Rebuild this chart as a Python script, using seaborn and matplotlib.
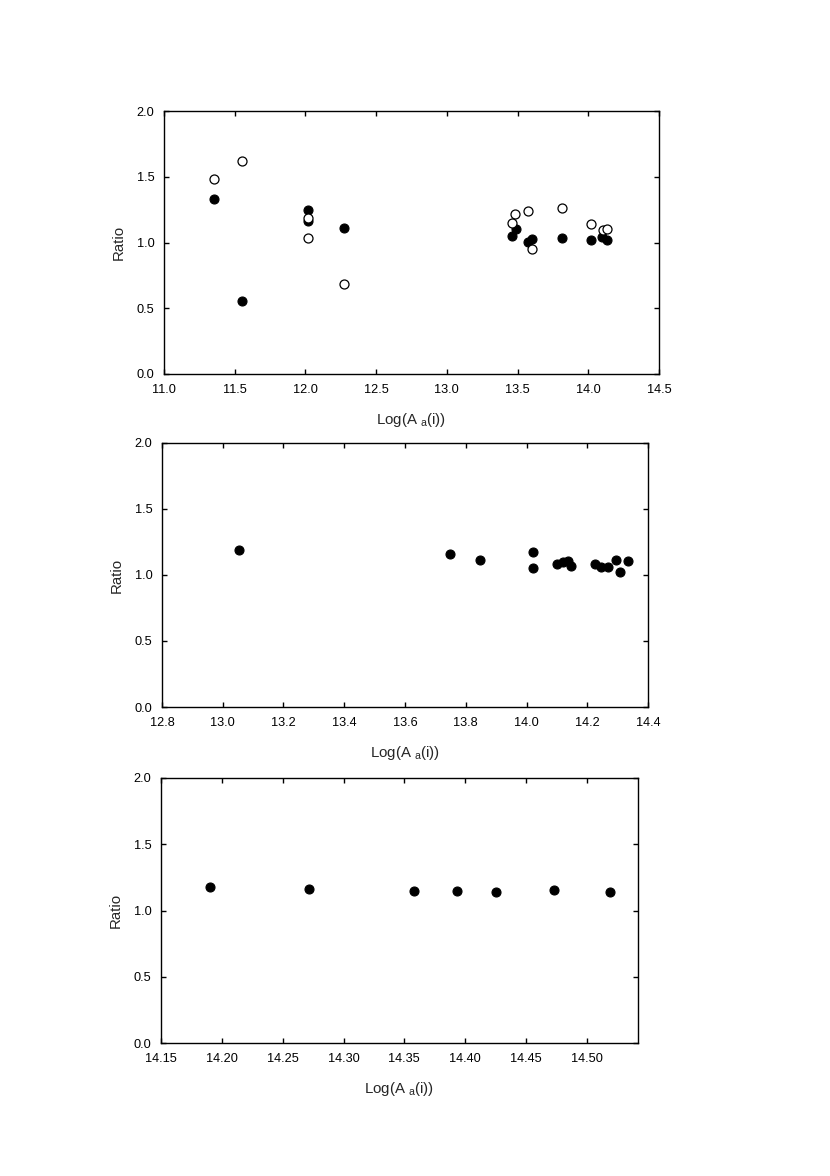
import matplotlib
matplotlib.use("Agg")
import matplotlib.pyplot as plt
import seaborn as sns

sns.set_style("ticks")
plt.rcParams['font.family'] = ['Liberation Sans', 'DejaVu Sans']
plt.rcParams['mathtext.fontset'] = 'custom'
plt.rcParams['mathtext.rm'] = 'Liberation Sans'

# Panel 1 data
p1_filled_x = [11.354, 11.552, 12.016, 12.016, 12.273, 13.463, 13.487, 13.572, 13.600, 13.817, 14.020, 14.098, 14.131]
p1_filled_y = [1.328, 0.553, 1.245, 1.163, 1.110, 1.049, 1.105, 1.004, 1.024, 1.037, 1.022, 1.044, 1.019]
p1_open_x = [11.354, 11.552, 12.016, 12.016, 12.273, 13.482, 13.463, 13.572, 13.600, 13.817, 14.020, 14.102, 14.131]
p1_open_y = [1.483, 1.617, 1.184, 1.034, 0.687, 1.219, 1.151, 1.242, 0.948, 1.265, 1.138, 1.095, 1.105]

# Panel 2 data
p2_x = [13.054, 13.747, 13.846, 14.022, 14.022, 14.100, 14.121, 14.138, 14.147, 14.225, 14.244, 14.268, 14.295, 14.309, 14.334]
p2_y = [1.189, 1.159, 1.114, 1.174, 1.051, 1.081, 1.101, 1.106, 1.071, 1.081, 1.061, 1.063, 1.114, 1.020, 1.106]

# Panel 3 data
p3_x = [14.190, 14.2715, 14.358, 14.393, 14.425, 14.473, 14.519]
p3_y = [1.180, 1.163, 1.145, 1.150, 1.140, 1.158, 1.143]

x1_ticks = [11.0, 11.5, 12.0, 12.5, 13.0, 13.5, 14.0, 14.5]
x2_ticks = [12.8, 13.0, 13.2, 13.4, 13.6, 13.8, 14.0, 14.2, 14.4]
x3_ticks = [14.15, 14.20, 14.25, 14.30, 14.35, 14.40, 14.45, 14.50]
y_ticks = [0.0, 0.5, 1.0, 1.5, 2.0]

W, H = 830, 1176
fig = plt.figure(figsize=(W / 100, H / 100), dpi=100)

def make_ax(l, r, t, b):
    return fig.add_axes([l / W, (H - b) / H, (r - l) / W, (b - t) / H])

ax1 = make_ax(164, 659, 111, 374)
ax2 = make_ax(162, 648, 443, 707)
ax3 = make_ax(161, 638, 778, 1043)

ms = 42
sns.scatterplot(x=p1_filled_x, y=p1_filled_y, ax=ax1, color='black', edgecolor='black', s=ms, linewidth=0.8, zorder=3)
sns.scatterplot(x=p1_open_x, y=p1_open_y, ax=ax1, facecolor='white', edgecolor='black', s=ms, linewidth=0.9, zorder=4)
sns.scatterplot(x=p2_x, y=p2_y, ax=ax2, color='black', edgecolor='black', s=ms, linewidth=0.8, zorder=3)
sns.scatterplot(x=p3_x, y=p3_y, ax=ax3, color='black', edgecolor='black', s=ms, linewidth=0.8, zorder=3)

setup = [(ax1, x1_ticks, (11.0, 14.5), ['%.1f' % v for v in x1_ticks]),
         (ax2, x2_ticks, (12.8, 14.4), ['%.1f' % v for v in x2_ticks]),
         (ax3, x3_ticks, (14.15, 14.542), ['%.2f' % v for v in x3_ticks])]

for ax, xt, xl, xtl in setup:
    ax.set_xlim(*xl)
    ax.set_ylim(0, 2.0)
    ax.set_xticks(xt)
    ax.set_xticklabels(xtl)
    ax.set_yticks(y_ticks)
    ax.set_yticklabels(['%.1f' % v for v in y_ticks])
    for sp in ax.spines.values():
        sp.set_visible(True)
        sp.set_linewidth(1.0)
        sp.set_color('black')
    ax.tick_params(direction='in', length=3.5, width=1.0, top=True, right=True,
                   labelsize=9.2, colors='black')
    ax.tick_params(axis='x', pad=7)
    ax.tick_params(axis='y', pad=7)
    ax.set_xlabel(r'Log(A $_{\mathregular{a}}$(i))', fontsize=10.8, labelpad=11)
    ax.set_ylabel('Ratio', fontsize=10.8, labelpad=8)

fig.savefig('out.png', dpi=100)
